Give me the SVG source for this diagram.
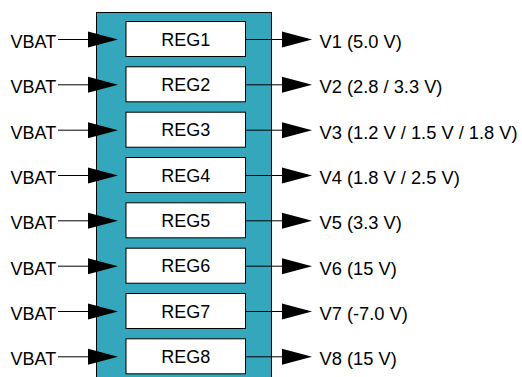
<svg xmlns="http://www.w3.org/2000/svg" width="522" height="377" viewBox="0 0 522 377">
<style>
text{font-family:"Liberation Sans",Arial,sans-serif;font-size:18px;fill:#000}
.out{font-size:18.3px}
.reg{fill:#fff;stroke:#000;stroke-width:1}
.ln{stroke:#000;stroke-width:1;fill:none}
.ah{fill:#000}
</style>
<rect width="522" height="377" fill="#fff"/>
<g id="chip"><rect x="96.5" y="12.5" width="175" height="380" fill="#35A7BD" stroke="#000" stroke-width="1"/></g>
<g id="reg1"><rect class="reg" x="126" y="21.5" width="119.5" height="35"/><text x="185.75" y="45.5" text-anchor="middle">REG1</text></g>
<g id="reg2"><rect class="reg" x="126" y="66.8" width="119.5" height="35"/><text x="185.75" y="90.8" text-anchor="middle">REG2</text></g>
<g id="reg3"><rect class="reg" x="126" y="112.2" width="119.5" height="35"/><text x="185.75" y="136.2" text-anchor="middle">REG3</text></g>
<g id="reg4"><rect class="reg" x="126" y="157.5" width="119.5" height="35"/><text x="185.75" y="181.5" text-anchor="middle">REG4</text></g>
<g id="reg5"><rect class="reg" x="126" y="202.8" width="119.5" height="35"/><text x="185.75" y="226.8" text-anchor="middle">REG5</text></g>
<g id="reg6"><rect class="reg" x="126" y="248.2" width="119.5" height="35"/><text x="185.75" y="272.2" text-anchor="middle">REG6</text></g>
<g id="reg7"><rect class="reg" x="126" y="293.5" width="119.5" height="35"/><text x="185.75" y="317.5" text-anchor="middle">REG7</text></g>
<g id="reg8"><rect class="reg" x="126" y="338.8" width="119.5" height="35"/><text x="185.75" y="362.8" text-anchor="middle">REG8</text></g>
<g id="labels">
<text x="10.5" y="48">VBAT</text><text x="10.5" y="93.3">VBAT</text><text x="10.5" y="138.7">VBAT</text><text x="10.5" y="184">VBAT</text>
<text x="10.5" y="229.3">VBAT</text><text x="10.5" y="274.7">VBAT</text><text x="10.5" y="320">VBAT</text><text x="10.5" y="365.3">VBAT</text>
<text class="out" x="319.5" y="48">V1 (5.0 V)</text>
<text class="out" x="319.5" y="93.3">V2 (2.8 / 3.3 V)</text>
<text class="out" x="319.5" y="138.7">V3 (1.2 V / 1.5 V / 1.8 V)</text>
<text class="out" x="319.5" y="184">V4 (1.8 V / 2.5 V)</text>
<text class="out" x="319.5" y="229.3">V5 (3.3 V)</text>
<text class="out" x="319.5" y="274.7">V6 (15 V)</text>
<text class="out" x="319.5" y="320">V7 (-7.0 V)</text>
<text class="out" x="319.5" y="365.3">V8 (15 V)</text>
</g>
<g id="connectors">
<path class="ln" d="M58 39.5H90M58 84.8H90M58 130.2H90M58 175.5H90M58 220.8H90M58 266.2H90M58 311.5H90M58 356.8H90"/>
<path class="ln" d="M245.5 39.5H284M245.5 84.8H284M245.5 130.2H284M245.5 175.5H284M245.5 220.8H284M245.5 266.2H284M245.5 311.5H284M245.5 356.8H284"/>
<path class="ah" d="M88 31.5L118 39.5L88 47.5ZM88 76.8L118 84.8L88 92.8ZM88 122.2L118 130.2L88 138.2ZM88 167.5L118 175.5L88 183.5ZM88 212.8L118 220.8L88 228.8ZM88 258.2L118 266.2L88 274.2ZM88 303.5L118 311.5L88 319.5ZM88 348.8L118 356.8L88 364.8Z"/>
<path class="ah" d="M282 31.5L312 39.5L282 47.5ZM282 76.8L312 84.8L282 92.8ZM282 122.2L312 130.2L282 138.2ZM282 167.5L312 175.5L282 183.5ZM282 212.8L312 220.8L282 228.8ZM282 258.2L312 266.2L282 274.2ZM282 303.5L312 311.5L282 319.5ZM282 348.8L312 356.8L282 364.8Z"/>
</g>
</svg>
